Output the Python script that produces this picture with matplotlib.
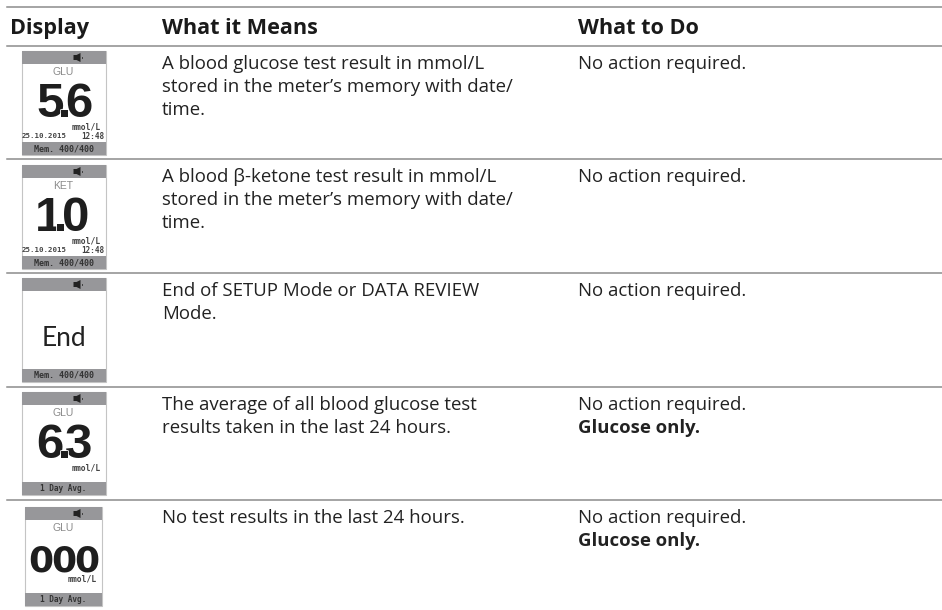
import matplotlib
matplotlib.use("Agg")
import matplotlib.pyplot as plt
import matplotlib.patheffects as pe
from matplotlib.patches import Rectangle, Polygon

headers = ["Display", "What it Means", "What to Do"]
meanings = [
    ["A blood glucose test result in mmol/L", "stored in the meter’s memory with date/", "time."],
    ["A blood β-ketone test result in mmol/L", "stored in the meter’s memory with date/", "time."],
    ["End of SETUP Mode or DATA REVIEW", "Mode."],
    ["The average of all blood glucose test", "results taken in the last 24 hours."],
    ["No test results in the last 24 hours."],
]
todo = ["No action required."] * 5
todo_bold = ["", "", "", "Glucose only.", "Glucose only."]
readings = ["5.6", "1.0", "End", "6.3", "000"]
analytes = ["GLU", "KET", "", "GLU", "GLU"]
units = ["mmol/L", "mmol/L", "", "mmol/L", "mmol/L"]
stamps = ["25.10.2015", "25.10.2015", "", "", ""]
times = ["12:48", "12:48", "", "", ""]
footers = ["Mem. 400/400", "Mem. 400/400", "Mem. 400/400", "1 Day Avg.", "1 Day Avg."]

rules = [7, 46, 159, 273, 387, 500]
boxes = [(21.5, 105.5, 51, 155), (21.5, 105.5, 165, 269), (21.5, 105.5, 278, 382),
         (21.5, 105.5, 392, 495), (24.5, 102, 507, 606)]

BODY = "Open Sans"
GREY = "#97979a"
MONO = "DejaVu Sans Mono"
INK = "#222222"

fig = plt.figure(figsize=(9.42, 6.10), dpi=100)
ax = fig.add_axes([0, 0, 1, 1])
ax.set_xlim(0, 942)
ax.set_ylim(610, 0)
ax.axis("off")

for y in rules:
    ax.plot([7, 942], [y, y], color="#8c8c8c", lw=1.1)

for x, h in zip([10, 162, 578], headers):
    ax.text(x, 34, h, fontsize=15.6, fontweight="bold", family=BODY, color="#1a1a1a", va="baseline")


def draw_digits(reading, xc, base):
    # big digits sit tighter than any installed font, so step them by hand
    if reading == "000":
        for k, ch in enumerate(reading):
            ax.text(xc + 1 + (k - 1) * 23, base, ch, fontsize=26, fontweight="bold",
                    family="DejaVu Sans", color="#1e1e1e", ha="center", va="baseline")
        return
    if reading[0] == "1":
        steps = [-15, -2.5, 12]
    else:
        steps = [-13.5, 1, 15.5]
    for ch, dx in zip(reading, steps):
        t = ax.text(xc + dx, base, ch, fontsize=35.5, fontweight="bold", family="Liberation Sans",
                    color="#1e1e1e", ha="center", va="baseline", zorder=4 if ch == "." else 3)
        if ch == ".":
            t.set_path_effects([pe.withStroke(linewidth=1.2, foreground="white")])


def draw_screen(box, reading, analyte, unit, stamp, clock, footer):
    x0, x1, y0, y1 = box
    xc = (x0 + x1) / 2
    ax.add_patch(Rectangle((x0, y0), x1 - x0, y1 - y0, fc="white", ec="#c4c4c4", lw=0.8))
    ax.add_patch(Rectangle((x0, y0), x1 - x0, 13, fc=GREY, ec="none"))
    ax.add_patch(Rectangle((x0, y1 - 13.5), x1 - x0, 13.5, fc=GREY, ec="none"))
    # speaker icon
    sx = 73.5
    sy = y0 + 6.5
    ax.add_patch(Polygon([(sx, sy - 2.5), (sx + 3, sy - 2.5), (sx + 7, sy - 4.5), (sx + 7, sy + 4.5),
                          (sx + 3, sy + 2.5), (sx, sy + 2.5)], fc=INK, ec="none"))
    ax.add_patch(Rectangle((sx + 8, sy - 1), 1.3, 2, fc="#444444", ec="none"))
    ax.text(xc, y1 - 6.5, footer, fontsize=6 if footer.startswith("Mem") else 5.6, fontweight="bold",
            family=MONO, color="#333333", ha="center", va="center")
    if reading == "End":
        ax.text(xc, y0 + 68, reading, fontsize=19, family="Lato", color=INK,
                ha="center", va="baseline")
        return
    ax.text(xc, y0 + 21, analyte, fontsize=7.5, family="Liberation Sans", color="#8a8a8a",
            ha="center", va="center")
    draw_digits(reading, xc, y0 + 66 if reading != "000" else y0 + 65)
    unit_y = y0 + 76 if reading != "000" else y0 + 72
    ax.text(x1 - 5, unit_y, unit, fontsize=5.8, fontweight="bold", family=MONO,
            color="#444444", ha="right", va="center")
    if stamp:
        ax.text(x0 + 0.5, y0 + 85.5, stamp, fontsize=5.3, fontweight="bold", family=MONO,
                color="#444444", ha="left", va="center")
        ax.text(x1 - 1, y0 + 85.5, clock, fontsize=5.5, fontweight="bold", family=MONO,
                color="#444444", ha="right", va="center")


for i in range(5):
    draw_screen(boxes[i], readings[i], analytes[i], units[i], stamps[i], times[i], footers[i])
    base = rules[i + 1] + 23
    for k, line in enumerate(meanings[i]):
        ax.text(162, base + k * 23, line, fontsize=13.4, family=BODY, color=INK, va="baseline")
    ax.text(578, base, todo[i], fontsize=13.4, family=BODY, color=INK, va="baseline")
    if todo_bold[i]:
        ax.text(578, base + 23, todo_bold[i], fontsize=13.3, fontweight="bold", family=BODY,
                color=INK, va="baseline")

fig.savefig("out.png", dpi=100)
